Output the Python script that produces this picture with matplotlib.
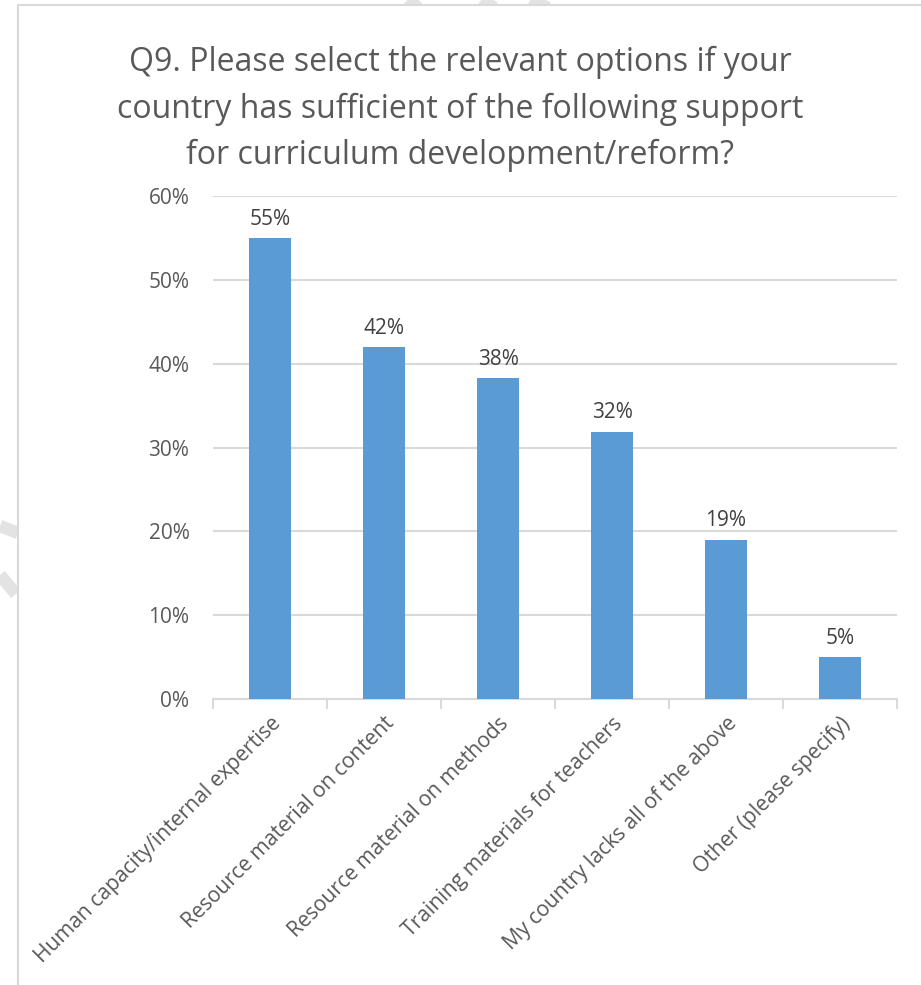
import matplotlib.pyplot as plt
from matplotlib.lines import Line2D
from matplotlib.patches import Rectangle
from matplotlib.ticker import MultipleLocator, PercentFormatter

# survey answers and share of respondents (%)
categories = [
    "Human capacity/internal expertise",
    "Resource material on content",
    "Resource material on methods",
    "Training materials for teachers",
    "My country lacks all of the above",
    "Other (please specify)",
]
values = [55, 42, 38.3, 31.9, 19, 5]
labels = ["55%", "42%", "38%", "32%", "19%", "5%"]

title = ("Q9. Please select the relevant options if your\n"
         "country has sufficient of the following support\n"
         "for curriculum development/reform?")

plt.rcParams['font.family'] = ['Open Sans', 'DejaVu Sans']

W, H = 921, 985
fig = plt.figure(figsize=(W / 100, H / 100), dpi=100)

def px(x, y):
    #pixel coords (top-left origin) -> figure fraction
    return x / W, 1 - y / H

# faint background strokes peeking out around the chart frame
for (x0, y0), (x1, y1), lw in [((0, 526), (18, 533), 9),
                                ((0, 575), (16, 594), 9),
                                ((405, -4), (418, 8), 9),
                                ((478, -4), (494, 8), 9),
                                ((525, -4), (548, 8), 9)]:
    a, b = px(x0, y0)
    c, d = px(x1, y1)
    fig.add_artist(Line2D([a, c], [b, d], color="#e3e3e3", lw=lw, zorder=0,
                          solid_capstyle="butt"))

# chart frame
fx, fy = px(18, 5)
fig.add_artist(Rectangle((fx, 0 - 0.01), 1.05 - fx, fy + 0.01, facecolor="white",
                         edgecolor="#d9d9d9", lw=1.5, zorder=1))

ax = fig.add_axes([213 / W, 1 - 699 / H, 684 / W, 503 / H], zorder=2)
ax.patch.set_alpha(0)

x = range(len(categories))
bars = ax.bar(x, values, width=0.37, color="#5b9bd5", zorder=3)
for bar, lab in zip(bars, labels):
    ax.annotate(lab, (bar.get_x() + bar.get_width() / 2, bar.get_height()),
                xytext=(0, 6), textcoords="offset points", ha="center", va="bottom",
                fontsize=15, color="#404040")

ax.set_xlim(-0.5, len(categories) - 0.5)
ax.set_ylim(0, 60)
ax.yaxis.set_major_locator(MultipleLocator(10))
ax.yaxis.set_major_formatter(PercentFormatter(decimals=0))
ax.grid(axis="y", color="#d9d9d9", lw=1.5, zorder=0)
ax.set_axisbelow(True)

for s in ["top", "right", "left"]:
    ax.spines[s].set_visible(False)
ax.spines["bottom"].set_color("#d9d9d9")
ax.spines["bottom"].set_linewidth(1.5)

ax.tick_params(axis="y", length=0, pad=17, labelsize=15, labelcolor="#595959")
ax.set_xticks(x)
ax.set_xticklabels(categories, rotation=45, ha="right", rotation_mode="anchor",
                   fontsize=15.2, color="#595959")
ax.tick_params(axis="x", which="major", length=0, pad=10)
# tick marks sit on the category boundaries
ax.set_xticks([i - 0.5 for i in range(len(categories) + 1)], minor=True)
ax.tick_params(axis="x", which="minor", length=7, width=1.5, color="#d9d9d9")

tx, ty = px(460, 109)
fig.text(tx, ty, title, ha="center", va="center", fontsize=23, color="#595959",
         linespacing=1.53, zorder=3)

fig.savefig("out.png", dpi=100)
